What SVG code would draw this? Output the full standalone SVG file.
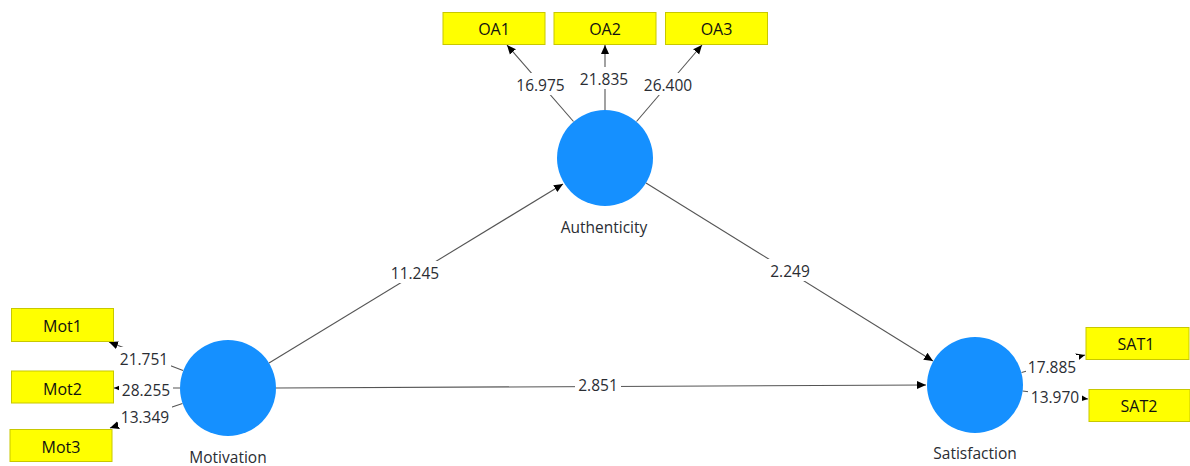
<svg xmlns="http://www.w3.org/2000/svg" width="1190" height="466" viewBox="0 0 1190 466">
<defs>
<style>
.ind{fill:#ffff00;stroke:#c8c800;stroke-width:1}
.lv{fill:#1590ff}
.t{font-family:"Open Sans","Noto Sans",sans-serif;font-size:16px;fill:#111;text-anchor:middle}
.n{font-family:"Open Sans","Noto Sans",sans-serif;font-size:15.5px;fill:#2a2d33;text-anchor:middle}
.c{stroke:#555;stroke-width:1.1;fill:none;marker-end:url(#ah)}
.bg{fill:#fff}
</style>
<marker id="ah" markerUnits="userSpaceOnUse" markerWidth="10" markerHeight="10" viewBox="0 0 10 10" refX="9" refY="5" orient="auto">
<path d="M0,1 L9,5 L0,9 z" fill="#000"/>
</marker>
</defs>
<rect width="1190" height="466" fill="#fff"/>
<g id="connectors">
<line class="c" x1="269" y1="363" x2="563" y2="184"/>
<line class="c" x1="646" y1="183" x2="933" y2="361"/>
<line class="c" x1="276" y1="388" x2="926" y2="385"/>
<line class="c" x1="573.5" y1="121.5" x2="507" y2="45"/>
<line class="c" x1="605" y1="110" x2="605" y2="45"/>
<line class="c" x1="636.5" y1="121.5" x2="702" y2="45"/>
<line class="c" x1="183" y1="370.5" x2="109" y2="342"/>
<line class="c" x1="180" y1="388" x2="114" y2="388"/>
<line class="c" x1="182.5" y1="403.5" x2="110" y2="428"/>
<line class="c" x1="1021.5" y1="372.5" x2="1085" y2="355"/>
<line class="c" x1="1022.5" y1="391" x2="1088" y2="399"/>
<g id="labels">
<rect class="bg" x="514" y="73" width="53" height="22"/><text class="n" x="540.5" y="91">16.975</text>
<rect class="bg" x="577" y="67" width="54" height="22"/><text class="n" x="604" y="85">21.835</text>
<rect class="bg" x="641" y="73" width="53" height="22"/><text class="n" x="668" y="91">26.400</text>
<rect class="bg" x="388" y="261" width="54" height="22"/><text class="n" x="415" y="279">11.245</text>
<rect class="bg" x="767" y="259" width="46" height="22"/><text class="n" x="790" y="277">2.249</text>
<rect class="bg" x="575" y="373" width="46" height="22"/><text class="n" x="598" y="391">2.851</text>
<rect class="bg" x="117" y="347" width="54" height="22"/><text class="n" x="144" y="365">21.751</text>
<rect class="bg" x="119" y="378" width="54" height="22"/><text class="n" x="146" y="396">28.255</text>
<rect class="bg" x="118" y="405" width="54" height="22"/><text class="n" x="145" y="423">13.349</text>
<rect class="bg" x="1026" y="355" width="53" height="22"/><text class="n" x="1052" y="373">17.885</text>
<rect class="bg" x="1028" y="385" width="54" height="22"/><text class="n" x="1055" y="403">13.970</text>
</g>
</g>
<g id="Authenticity">
<circle class="lv" cx="605" cy="158" r="48"/>
<text class="n" x="604" y="233">Authenticity</text>
</g>
<g id="Motivation">
<circle class="lv" cx="228" cy="388" r="48"/>
<text class="n" x="228" y="463">Motivation</text>
</g>
<g id="Satisfaction">
<circle class="lv" cx="975" cy="385" r="48"/>
<text class="n" x="975" y="459">Satisfaction</text>
</g>
<g id="OA1"><rect class="ind" x="443" y="12.5" width="102" height="32"/><text class="t" x="494" y="34.5">OA1</text></g>
<g id="OA2"><rect class="ind" x="554" y="12.5" width="102" height="32"/><text class="t" x="605" y="34.5">OA2</text></g>
<g id="OA3"><rect class="ind" x="665.5" y="12.5" width="102" height="32"/><text class="t" x="716.5" y="34.5">OA3</text></g>
<g id="Mot1"><rect class="ind" x="11.5" y="308.5" width="102" height="33"/><text class="t" x="62.5" y="331.5">Mot1</text></g>
<g id="Mot2"><rect class="ind" x="11.5" y="371" width="102" height="32"/><text class="t" x="62.5" y="394.5">Mot2</text></g>
<g id="Mot3"><rect class="ind" x="10" y="429.5" width="102" height="32"/><text class="t" x="61" y="452.5">Mot3</text></g>
<g id="SAT1"><rect class="ind" x="1086" y="327.5" width="103" height="32"/><text class="t" x="1136" y="349.5">SAT1</text></g>
<g id="SAT2"><rect class="ind" x="1089" y="389.5" width="101" height="32"/><text class="t" x="1139" y="411.5">SAT2</text></g>
</svg>
